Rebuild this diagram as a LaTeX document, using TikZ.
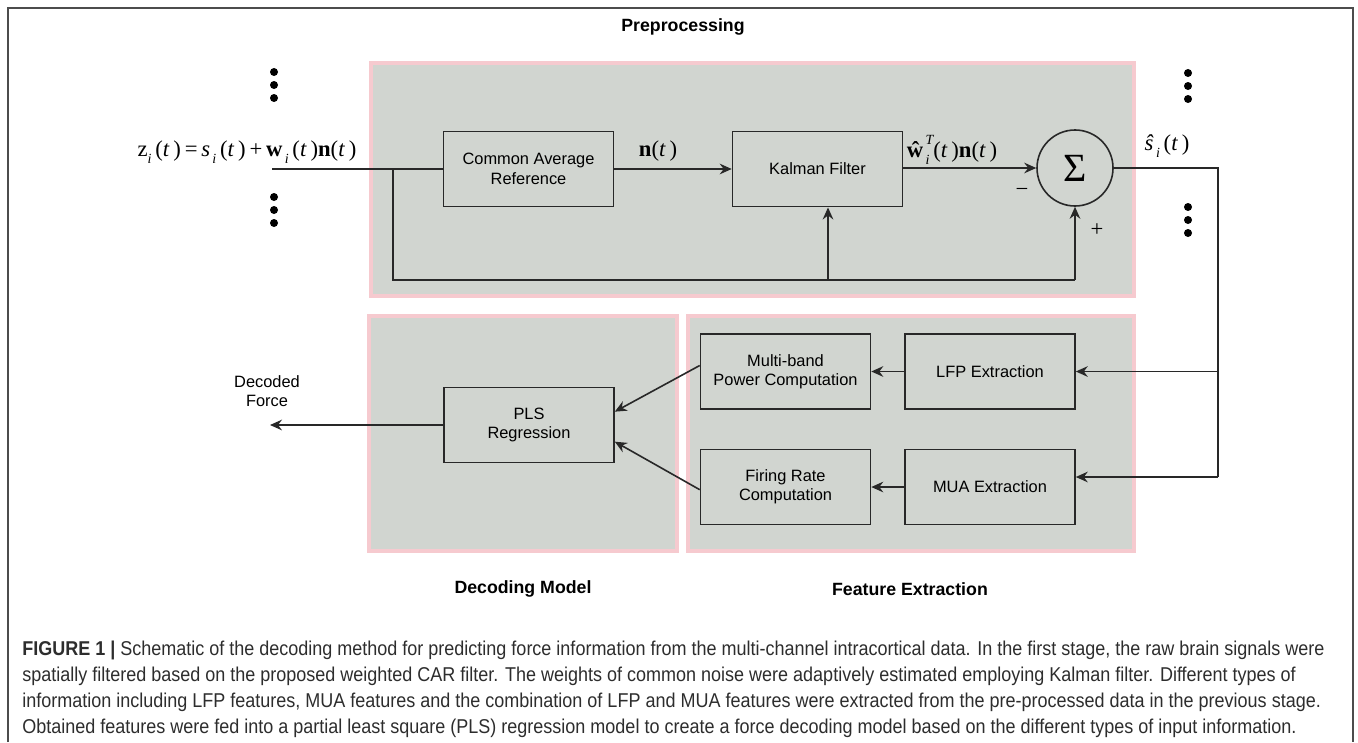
\documentclass[tikz,border=0pt]{standalone}
\usepackage{fontspec}
\setmainfont{Liberation Sans}
\newfontfamily\tnr{Liberation Serif}
\newfontfamily\capfont[FakeStretch=0.9]{Liberation Sans}
\usetikzlibrary{arrows.meta}
\definecolor{panelfill}{RGB}{209,213,208}
\definecolor{panelpink}{RGB}{246,202,207}
\definecolor{linec}{RGB}{40,40,40}
\definecolor{capc}{RGB}{45,45,45}
\newcommand{\mysub}[1]{\raisebox{-0.32em}{\fontsize{10.5}{10.5}\selectfont\itshape #1}}
\begin{document}
\begin{tikzpicture}[x=0.75pt,y=-0.75pt,
 panel/.style={draw=panelpink, line width=3pt, fill=panelfill},
 blk/.style={draw=linec, line width=1.2pt, inner sep=0pt, align=center,
   minimum width=127.5pt, minimum height=56.5pt, font=\fontsize{12.3}{14.5}\selectfont},
 conn/.style={draw=linec, line width=1.2pt},
 arr/.style={conn, -{Stealth[length=9pt,width=8pt,inset=3pt]}},
 plabel/.style={font=\fontsize{13.3}{15}\selectfont\bfseries},
 dot/.style={circle, fill=black, inner sep=0pt, minimum size=6pt},
 mlabel/.style={inner sep=0pt, font=\tnr\fontsize{17}{17}\selectfont},
 capline/.style={anchor=base west, inner sep=0pt, font=\capfont\fontsize{15}{17}\selectfont, text=capc}
]
\useasboundingbox (0,0) rectangle (1358,742);
% outer frame
\draw[line width=1.1pt, draw=black!70] (8,742) -- (8,8) -- (1353,8) -- (1353,742);

% panels
\path[panel] (371,63) rectangle (1134,296);
\path[panel] (369,316) rectangle (677,551);
\path[panel] (688,316) rectangle (1134,551);

\node[plabel] (ppl) at (683,27) {Preprocessing};
\node[plabel] (dml) at (523,589) {Decoding Model};
\node[plabel] (fel) at (910,589) {Feature Extraction};

% blocks
\node[blk] (car) at (528.5,169) {Common Average\\Reference};
\node[blk] (kal) at (817.5,169) {Kalman Filter};
\node[circle, draw=linec, line width=1.2pt, minimum size=57pt, inner sep=0pt,
      font=\tnr\fontsize{30}{30}\selectfont] (sum) at (1075,168) {\raisebox{-0.05em}{Σ}};
\node[blk] (pls) at (529,425) {PLS\\Regression};
\node[blk] (mbp) at (785.5,371.5) {Multi-band\\Power Computation};
\node[blk] (lfp) at (990,371.5) {LFP Extraction};
\node[blk] (frc) at (785.5,487) {Firing Rate\\Computation};
\node[blk] (mua) at (990,487) {MUA Extraction};

% coordinates
\coordinate (in) at (272,169);
\coordinate (br) at (393,169);
\coordinate (bl) at (393,280);
\coordinate (bk) at (828,280);
\coordinate (bs) at (1075,280);
\coordinate (ro) at (1218,168);
\coordinate (rl) at (1218,371.5);
\coordinate (rm) at (1218,477);
\coordinate (df) at (270,425);

% preprocessing connectors
\draw[conn] (in) -- (car.west);
\draw[conn] (br) -- (bl) -- (bs);
\draw[arr] (bs) -- (sum.south);
\draw[arr] (bk) -- (bk |- kal.south);
\draw[arr] (car.east) -- (kal.west);
\draw[arr] (kal.east |- sum.west) -- (sum.west);
\draw[conn] (sum.east) -- (ro) -- (rm);
\draw[arr] (rl) -- (lfp.east);
\draw[arr] (rm) -- ([yshift=7.5pt]mua.east);
\draw[arr] (lfp.west) -- (mbp.east);
\draw[arr] (mua.west) -- (frc.east);
\draw[arr] ([yshift=4.5pt]mbp.west) -- ([yshift=10pt]pls.east);
\draw[arr] ([yshift=-2pt]frc.west) -- ([yshift=-12.5pt]pls.east);
\draw[arr] (pls.west) -- (df);

% labels
\node[mlabel] (eq) at (247,152) {z\mysub{i}\,(\textit{t}\,)\,=\,\textit{s}\mysub{\,i}\,(\textit{t}\,)\,+\,\textbf{w}\mysub{\,i}\,(\textit{t}\,)\textbf{n}(\textit{t}\,)};
\node[mlabel] (nl) at (658,151) {\textbf{n}(\textit{t}\,)};
\node[mlabel] (wl) at (952,150) {\textbf{ŵ}\rlap{\raisebox{0.55em}{\fontsize{10.5}{10.5}\selectfont\itshape\,T}}\mysub{\,i}\,(\textit{t}\,)\textbf{n}(\textit{t}\,)};
\node[mlabel] (sl) at (1167,146) {\textit{ŝ}\mysub{\,i}\,(\textit{t}\,)};
\node[mlabel] (minus) at (1022,192) {−};
\node[mlabel] (plus) at (1097,230) {+};
\node[align=center, inner sep=0pt, font=\fontsize{12.3}{14.5}\selectfont] (dfl) at (267,391) {Decoded\\Force};

% dots
\foreach \y in {72,85,98} \node[dot] at (274,\y) {};
\foreach \y in {197,210,223} \node[dot] at (274,\y) {};
\foreach \y in {73,86,99} \node[dot] at (1188,\y) {};
\foreach \y in {207,220,233} \node[dot] at (1188,\y) {};

% caption
\node[capline] (c1) at (22,655) {\textbf{FIGURE 1 |} Schematic of the decoding method for predicting force information from the multi-channel intracortical data. In the first stage, the raw brain signals were};
\node[capline] (c2) at (22,681) {spatially filtered based on the proposed weighted CAR filter. The weights of common noise were adaptively estimated employing Kalman filter. Different types of};
\node[capline] (c3) at (22,707) {information including LFP features, MUA features and the combination of LFP and MUA features were extracted from the pre-processed data in the previous stage.};
\node[capline] (c4) at (22,733) {Obtained features were fed into a partial least square (PLS) regression model to create a force decoding model based on the different types of input information.};
\end{tikzpicture}
\end{document}
